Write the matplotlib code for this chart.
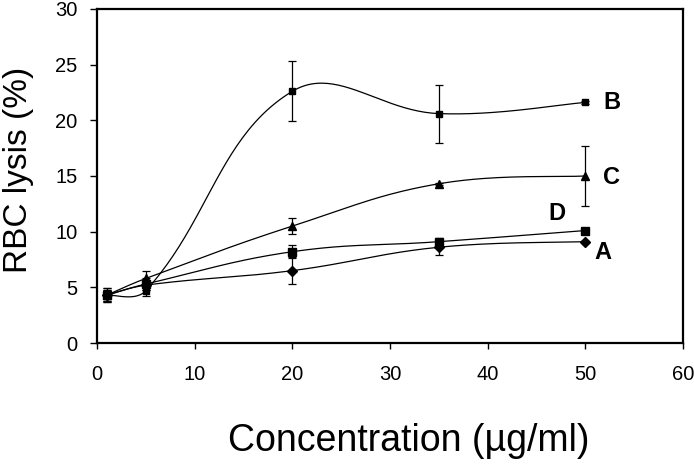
import numpy as np
import matplotlib
matplotlib.use("Agg")
import matplotlib.pyplot as plt

plt.rcParams['font.family'] = ['Liberation Sans', 'DejaVu Sans']

conc = [1, 5, 20, 35, 50]

lysis_A = [4.3, 5.2, 6.5, 8.6, 9.1]
err_A = [0.5, 0.4, 1.2, 0.7, 0.1]
lysis_B = [4.3, 4.7, 22.6, 20.6, 21.6]
err_B = [0.6, 0.5, 2.7, 2.6, 0.1]
lysis_C = [4.3, 5.8, 10.5, 14.3, 15.0]
err_C = [0.6, 0.7, 0.7, 0.1, 2.7]
lysis_D = [4.3, 5.3, 8.2, 9.1, 10.1]
err_D = [0.5, 0.5, 0.6, 0.3, 0.1]

series = [
    ("A", lysis_A, err_A, "D", 5, (51.8, 8.1)),
    ("B", lysis_B, err_B, "s", 5, (52.7, 21.6)),
    ("C", lysis_C, err_C, "^", 6, (52.7, 14.9)),
    ("D", lysis_D, err_D, "s", 6, (47.1, 11.6)),
]


def smooth(x, y, sx=9.77, sy=11.13, tension=0.4, n=50):
    # excel-like smoothed line, bezier with chord weighted tangents (pixel units)
    p = np.column_stack([np.asarray(x, float) * sx, np.asarray(y, float) * sy])
    k = len(p)
    d = np.linalg.norm(np.diff(p, axis=0), axis=1)
    before = p.copy()
    after = p.copy()
    for i in range(k):
        if i == 0:
            after[i] = p[0] + (p[1] - p[0]) * tension / 2
        elif i == k - 1:
            before[i] = p[i] - (p[i] - p[i - 1]) * tension / 2
        else:
            T = p[i + 1] - p[i - 1]
            w = d[i - 1] + d[i]
            before[i] = p[i] - T * d[i - 1] / w * tension
            after[i] = p[i] + T * d[i] / w * tension
    t = np.linspace(0, 1, n)[:, None]
    out = []
    for i in range(k - 1):
        seg = (1 - t) ** 3 * p[i] + 3 * (1 - t) ** 2 * t * after[i] \
            + 3 * (1 - t) * t ** 2 * before[i + 1] + t ** 3 * p[i + 1]
        out.append(seg)
    out = np.vstack(out)
    return out[:, 0] / sx, out[:, 1] / sy


fig = plt.figure(figsize=(6.94, 4.68), dpi=100)
ax = fig.add_axes([0.1398, 0.267, 0.8442, 0.714])

for name, y, e, m, ms, pos in series:
    xs, ys = smooth(conc, y)
    ax.plot(xs, ys, color="black", lw=0.9)
    ax.errorbar(conc, y, yerr=e, fmt=m, color="black", ms=ms, elinewidth=0.9,
                capsize=3, capthick=0.9)
    ax.text(pos[0], pos[1], name, fontsize=17, fontweight="bold",
            ha="center", va="center")

ax.set_xlim(0, 60)
ax.set_ylim(0, 30)
ax.set_xticks(range(0, 61, 10))
ax.set_yticks(range(0, 31, 5))
ax.tick_params(labelsize=14.5, width=1, direction="out")
ax.tick_params(axis="x", length=4.5, pad=11)
ax.tick_params(axis="y", length=5, pad=9)
for s in ax.spines.values():
    s.set_linewidth(1.6)

ax.set_xlabel("Concentration (µg/ml)", fontsize=27)
ax.xaxis.set_label_coords(0.532, -0.24)
ax.set_ylabel("RBC lysis (%)", fontsize=24)
ax.yaxis.set_label_coords(-0.108, 0.518)

fig.savefig("out.png", dpi=100)
